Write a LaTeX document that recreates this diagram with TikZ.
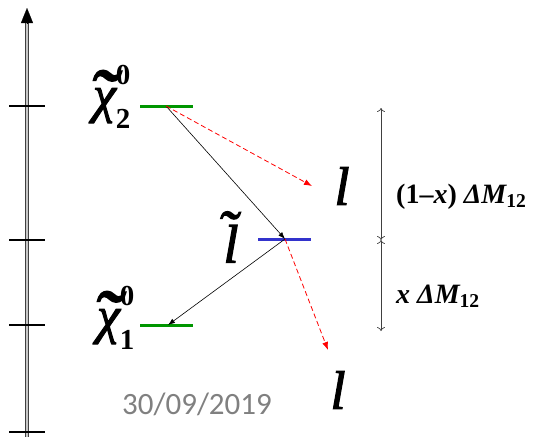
\RequirePackage{fix-cm}
\documentclass[tikz,border=0pt]{standalone}
\usepackage{amsmath}
\usepackage{fontspec}
\setmainfont{Liberation Serif}
\newfontfamily\partfont{Liberation Serif}[ItalicFeatures={FakeBold=2}]
\newfontfamily\datefont{Carlito}
\usetikzlibrary{arrows.meta,positioning}
\definecolor{lvlgreen}{RGB}{0,150,0}
\definecolor{lvlblue}{RGB}{51,51,204}
\definecolor{dategray}{RGB}{128,128,128}
\newdimen\tildeup
\newdimen\tildeshift
\newcommand\bsub[1]{\text{\fontsize{29}{29}\selectfont\rmfamily\bfseries\upshape #1}}
\newcommand\bit[1]{{\partfont\itshape #1}}
\newcommand\sptilde[3]{{\setbox0\hbox{#3}\setbox2\hbox{\resizebox{#1}{!}{˜}}%
  \tildeup=\dimexpr\ht0+3pt-0.74\ht2\relax
  \tildeshift=\dimexpr(\wd0-\wd2)/2+#2\relax
  \rlap{\hspace*{\tildeshift}\raisebox{\tildeup}{\box2}}\box0}}
\begin{document}
\begin{tikzpicture}[x=1pt, y=-1pt,
  tick/.style={line width=2.8pt},
  green level/.style={line width=3pt, lvlgreen},
  blue level/.style={line width=3pt, lvlblue},
  particle/.style={inner sep=0pt, font=\fontsize{54}{54}\selectfont\partfont\itshape},
  neutralino/.style={inner sep=0pt, font=\fontsize{52}{52}\selectfont\partfont\itshape},
  gap/.style={inner sep=0pt, font=\fontsize{28}{28}\selectfont\bfseries},
  decay/.style={-{Latex[length=7pt,width=5pt]}, line width=0.6pt},
  lepton/.style={-{Latex[length=8pt,width=6pt]}, red, dash pattern=on 5pt off 3pt, line width=0.8pt},
  dimension/.style={{To[length=4pt,width=8pt]}-{To[length=4pt,width=8pt]}, line width=0.7pt, black!75}]
\useasboundingbox (0,0) rectangle (543,437);
\coordinate (axbot) at (27,437);
\coordinate (axtop) at (27,23);
\coordinate (axtip) at (27,8);
\draw[double=gray!45, draw=black!75, line width=1pt, double distance=2pt] (axbot) -- (axtop);
\draw[-{Triangle[length=15pt,width=12pt]}, line width=0.1pt] (axtop) -- (axtip);
\foreach \n/\y in {a/106,b/240,c/325,d/432} {
  \coordinate (tick-\n-l) at (9,\y);
  \coordinate (tick-\n-r) at (45,\y);
  \draw[tick] (tick-\n-l) -- (tick-\n-r);
}
\coordinate (chiTwoL) at (140,106);
\coordinate (chiTwoR) at (193,106);
\coordinate (chiTwoM) at (166,106);
\coordinate (slepL) at (258,239);
\coordinate (slepR) at (311,239);
\coordinate (slepM) at (285,239);
\coordinate (chiOneL) at (140,325);
\coordinate (chiOneR) at (193,325);
\coordinate (chiOneM) at (168,325);
\draw[green level] (chiTwoL) -- (chiTwoR);
\draw[blue level] (slepL) -- (slepR);
\draw[green level] (chiOneL) -- (chiOneR);
\node[neutralino] (chiTwo) at (112,97) {$\text{\sptilde{28pt}{-2pt}{χ}}^{\bsub{0}}_{\bsub{2}}$};
\node[neutralino] (chiOne) at (116,318) {$\text{\sptilde{28pt}{-2pt}{χ}}^{\bsub{0}}_{\bsub{1}}$};
\node[particle] (slep) at (231,237) {\sptilde{20pt}{-4pt}{l}};
\node[particle] (lepOne) at (342,186) {l};
\node[particle] (lepTwo) at (338,390) {l};
\coordinate (lepOneTip) at (312,186);
\coordinate (lepTwoTip) at (328,350);
\draw[decay] (chiTwoM) -- (slepM);
\draw[decay] (slepM) -- (chiOneM);
\draw[lepton] (chiTwoM) -- (lepOneTip);
\draw[lepton] (slepM) -- (lepTwoTip);
\coordinate (dimTop) at (381,108);
\coordinate (dimMid) at (381,240);
\coordinate (dimBot) at (381,331);
\draw[dimension] (dimTop) -- (dimMid);
\draw[dimension] (dimMid) -- (dimBot);
\node[gap, anchor=west] (upperGap) at (396,197) {(1–\bit{x}) \bit{ΔM}\textsubscript{12}};
\node[gap, anchor=west] (lowerGap) at (396,296) {\bit{x ΔM}\textsubscript{12}};
\node[inner sep=0pt, text=dategray, font=\datefont\fontsize{31}{31}\selectfont] (date) at (197,404) {30/09/2019};
\end{tikzpicture}
\end{document}
